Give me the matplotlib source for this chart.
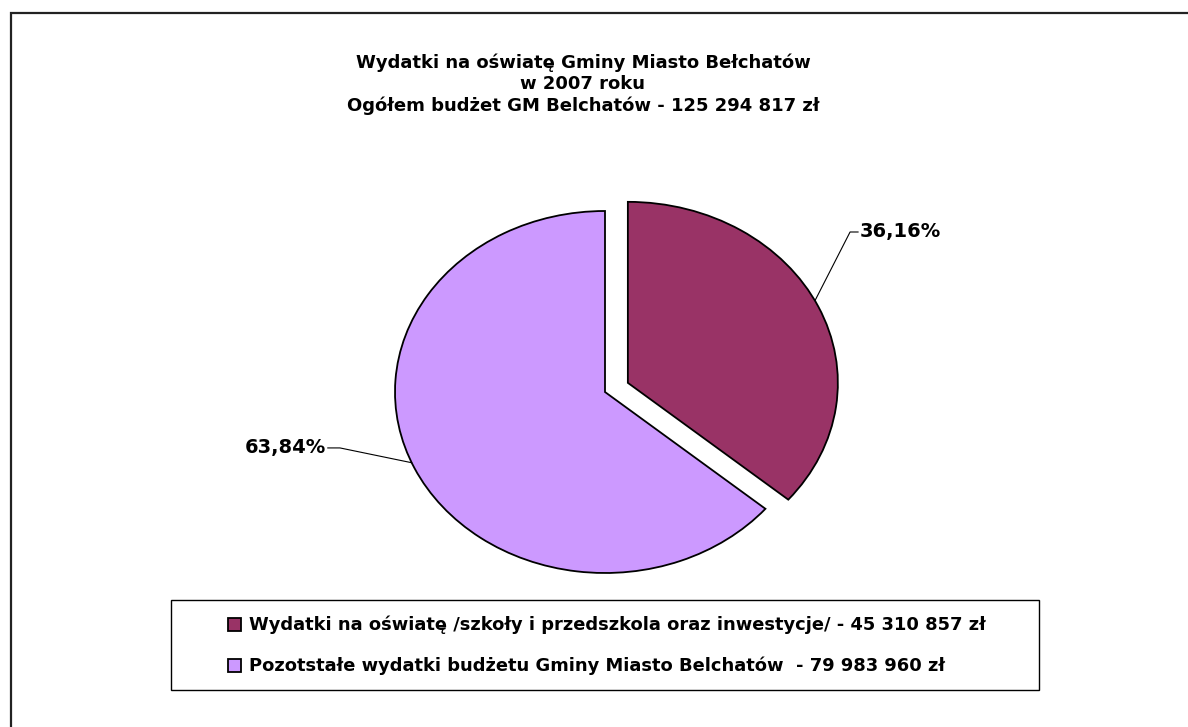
import numpy as np
import matplotlib.pyplot as plt
from matplotlib.patches import Rectangle

plt.rcParams['font.family'] = ['DejaVu Sans']

title = ("Wydatki na oświatę Gminy Miasto Bełchatów\n"
         "w 2007 roku\n"
         "Ogółem budżet GM Belchatów - 125 294 817 zł")
labels = ["Wydatki na oświatę /szkoły i przedszkola oraz inwestycje/ - 45 310 857 zł",
          "Pozotstałe wydatki budżetu Gminy Miasto Belchatów  - 79 983 960 zł"]
values = [45310857, 79983960]
pct_labels = ["36,16%", "63,84%"]
colors = ["#993366", "#CC99FF"]

W, H = 1188, 727
fig = plt.figure(figsize=(W / 100, H / 100), dpi=100)

# pie drawn in an axes stretched so the pie becomes an ellipse (210 x 181 px radii)
cx, cy, rx, ry = 605, 392, 210, 181
ax = fig.add_axes([(cx - 1.5 * rx) / W, (H - cy - 1.5 * ry) / H, 3 * rx / W, 3 * ry / H])

wedges, _ = ax.pie(values, colors=colors, startangle=90, counterclock=False,
                   explode=[0.12, 0], radius=1.0,
                   wedgeprops=dict(edgecolor='black', linewidth=1.3))
ax.set_aspect('auto')
ax.set_xlim(-1.5, 1.5)
ax.set_ylim(-1.5, 1.5)
ax.axis('off')

# leader lines and percentage labels
label_pos = [(1.167, 0.884, 1.215, 'left'), (-1.262, -0.309, -1.33, 'right')]
point_ang = [27, 203]
for w, (ex, ey, tx, ha), ang, txt in zip(wedges, label_pos, point_ang, pct_labels):
    px = w.center[0] + w.r * np.cos(np.radians(ang))
    py = w.center[1] + w.r * np.sin(np.radians(ang))
    ax.plot([px, ex, tx + (-0.01 if ha == 'left' else 0.01)], [py, ey, ey],
            color='black', linewidth=0.8)
    ax.text(tx, ey, txt, ha=ha, va='center', fontsize=14, fontweight='bold')

fig.text(583 / W, 1 - 84 / H, title, ha='center', va='center', fontsize=13,
         fontweight='bold', linespacing=1.22)

# legend box
fig.patches.append(Rectangle((171 / W, 1 - 690 / H), (1039 - 171) / W, 90 / H,
                             transform=fig.transFigure, facecolor='white',
                             edgecolor='black', linewidth=1.0))
leg = fig.legend(wedges, labels, loc='upper left',
                 bbox_to_anchor=(228 / W, 1 - 616 / H), frameon=False,
                 prop=dict(size=12.9, weight='bold'),
                 handlelength=0.72, handleheight=0.72, handletextpad=0.45,
                 labelspacing=1.25, borderpad=0, borderaxespad=0)

# outer chart border (only top and left edges visible in the picture)
fig.patches.append(Rectangle((11 / W, -0.05), 1.1, 1 - 13 / H + 0.05,
                             transform=fig.transFigure, fill=False,
                             edgecolor='#222222', linewidth=1.6))

fig.savefig('out.png', dpi=100)
